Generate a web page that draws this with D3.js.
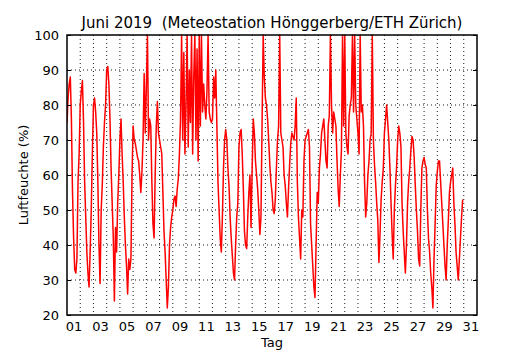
<!DOCTYPE html>
<html><head><meta charset="utf-8">
<script src="https://cdn.jsdelivr.net/npm/d3@7"></script>
<style>
html,body{margin:0;padding:0;background:#fff;}
text{font-family:"DejaVu Sans",sans-serif;fill:#000;}
</style></head>
<body><svg id="c" width="530" height="350"></svg>
<script>
const title = "Juni 2019  (Meteostation Hönggerberg/ETH Zürich)";
const yLabel = "Luftfeuchte (%)";
const xLabel = "Tag";
const stepHours = 2;
// relative humidity (%), one value every 2 hours, from 1 June 00:00
const humidity = [
 75,82,86,88,76,55,42,33,32,36,58,66,
 80,84,87,75,58,48,38,32,28,38,50,66,
 80,82,78,72,58,40,29,50,57,68,75,80,
 90,91,86,76,62,52,42,24,45,38,52,60,
 70,76,66,58,48,40,34,26,36,33,36,60,
 74,70,69,67,65,64,60,55,61,70,89,72,
 85,100,70,76,74,58,46,42,60,74,81,72,
 70,68,66,55,44,38,30,22,28,40,45,48,
 50,53,54,51,56,59,66,76,100,70,95,66,
 80,100,68,90,75,100,66,88,100,70,96,64,
 100,74,100,78,86,80,76,84,100,78,76,75,
 76,88,82,90,74,58,50,42,38,48,62,70,
 73,70,62,57,48,42,37,32,30,40,48,52,
 68,72,73,66,56,44,40,39,48,55,60,45,
 62,76,72,64,60,56,50,43,48,75,100,88,
 82,80,76,70,63,58,55,50,49,53,62,70,
 74,100,72,70,68,60,57,52,48,56,63,69,
 72,71,70,74,82,58,48,42,36,50,48,64,
 70,71,72,73,68,46,40,34,28,25,40,55,
 52,62,66,72,74,76,70,64,62,74,77,100,
 80,72,78,76,74,64,56,51,60,67,100,74,
 100,72,68,66,77,80,82,100,78,100,80,76,
 72,66,100,78,80,74,58,48,52,60,64,70,
 72,100,70,63,58,52,47,35,43,53,58,62,
 72,76,80,75,70,62,52,43,36,50,57,62,
 70,74,72,68,52,44,38,32,40,52,58,62,
 67,71,70,65,57,50,44,36,34,50,62,64,
 65,63,62,50,42,38,32,28,22,36,46,57,
 61,64,64,58,52,46,40,34,30,40,47,55,
 58,60,62,52,46,38,34,30,36,42,48,53
];
const dayLabels = ["01","03","05","07","09","11","13","15","17","19","21","23","25","27","29","31"];
const yTicks = [20,30,40,50,60,70,80,90,100];

const svg = d3.select("#c");
const L=67, R=477, T=35, B=315;
const x = d3.scaleLinear().domain([0,31]).range([L,R]);
const y = d3.scaleLinear().domain([20,100]).range([B,T]);

// grid
const g = svg.append("g");
g.selectAll("line.vg").data(d3.range(1,31)).enter().append("line")
  .attr("x1",d=>x(d)).attr("x2",d=>x(d)).attr("y1",T).attr("y2",B)
  .attr("stroke","#000").attr("stroke-width",0.9).attr("stroke-dasharray","1,3");
g.selectAll("line.hg").data(yTicks.slice(1,-1)).enter().append("line")
  .attr("x1",L).attr("x2",R).attr("y1",d=>y(d)).attr("y2",d=>y(d))
  .attr("stroke","#000").attr("stroke-width",0.9).attr("stroke-dasharray","1,3");

// line
svg.append("clipPath").attr("id","cp").append("rect")
  .attr("x",L).attr("y",T-1).attr("width",R-L).attr("height",B-T+1);
const line = d3.line().x((d,i)=>x(i*stepHours/24)).y(d=>y(d));
svg.append("path").datum(humidity).attr("d",line)
  .attr("fill","none").attr("stroke","#ff0000").attr("stroke-width",1.5)
  .attr("stroke-linejoin","round").attr("clip-path","url(#cp)");

// axes
const yAxisL = d3.axisLeft(y).tickValues(yTicks).tickSize(-4).tickPadding(8);
const yAxisR = d3.axisRight(y).tickValues(yTicks).tickSize(-4).tickFormat("");
const xAxisB = d3.axisBottom(x).tickValues(dayLabels.map(d=>+d-0.5))
  .tickFormat((d,i)=>dayLabels[i]).tickSize(0).tickPadding(7);
const ga = svg.append("g").attr("transform",`translate(${L},0)`).call(yAxisL);
const gr = svg.append("g").attr("transform",`translate(${R},0)`).call(yAxisR);
const gb = svg.append("g").attr("transform",`translate(0,${B})`).call(xAxisB);
[ga,gr,gb].forEach(a=>{a.select(".domain").remove();a.selectAll("text").style("font-size","13px").style("font-family","DejaVu Sans");});

svg.append("rect").attr("x",L).attr("y",T).attr("width",R-L).attr("height",B-T)
  .attr("fill","none").attr("stroke","#000").attr("stroke-width",1.5);

svg.append("text").attr("x",(L+R)/2).attr("y",28).attr("text-anchor","middle")
  .style("font-size","15px").style("white-space","pre").text(title);
svg.append("text").attr("x",(L+R)/2).attr("y",347).attr("text-anchor","middle")
  .style("font-size","13px").text(xLabel);
svg.append("text").attr("transform",`translate(28,${(T+B)/2}) rotate(-90)`)
  .attr("text-anchor","middle").style("font-size","13px").text(yLabel);
</script></body></html>
